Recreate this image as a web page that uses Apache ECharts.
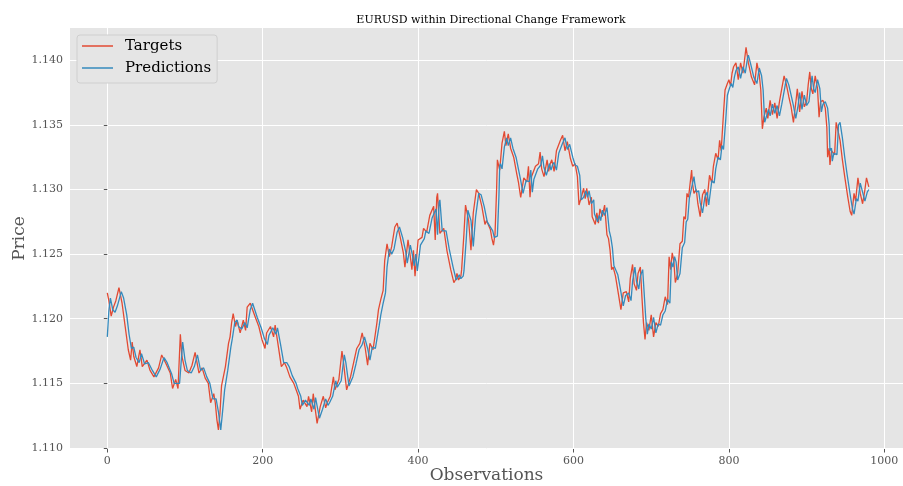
<!DOCTYPE html>
<html>
<head>
<meta charset="utf-8">
<script src="https://cdn.jsdelivr.net/npm/echarts@6/dist/echarts.min.js"></script>
<style>
  html, body { margin: 0; padding: 0; background: #ffffff; }
  #chart { width: 903px; height: 486px; }
</style>
</head>
<body>
<div id="chart"></div>
<script>
// EURUSD observations: targets and model predictions
const targetObs = [0,2,5,8,11,15,19,23,27,30,32,34,38,42,45,51,55,60,66,70,75,81,84,88,91,94,96,100,105,109,113,118,122,126,130,133,137,139,141,143,145,147,152,156,158,160,162,165,167,171,175,178,180,184,186,190,195,199,203,205,210,214,216,220,224,228,231,235,240,243,246,248,252,257,259,263,265,270,274,278,281,283,287,291,293,298,302,304,308,313,317,321,325,328,332,335,338,342,347,349,352,355,357,360,363,366,370,373,377,381,383,387,390,392,394,396,400,405,407,411,415,420,422,424,425,428,433,437,442,446,448,450,452,455,456,459,461,465,468,471,475,478,482,486,488,493,495,497,499,501,502,503,505,508,511,513,516,519,523,527,529,532,536,540,542,544,546,551,555,557,559,562,566,568,570,572,575,578,583,586,589,592,596,599,602,605,607,610,613,615,617,620,623,624,628,630,632,634,637,640,643,645,647,649,651,654,657,661,664,668,671,673,676,678,681,683,686,688,690,692,694,697,700,703,706,709,712,715,718,721,723,725,727,729,731,734,737,740,742,744,746,748,752,753,755,758,760,763,766,769,771,775,778,780,783,786,788,790,793,795,798,800,802,804,806,809,812,815,818,821,822,825,829,833,836,839,841,843,845,848,850,853,856,859,862,865,868,871,874,877,880,883,886,888,891,894,897,900,902,904,906,908,911,914,916,918,921,924,926,927,929,930,932,936,938,940,943,946,949,953,956,958,961,963,966,969,972,975,977,980];
const targetPrice = [1.1220,1.1214,1.1202,1.1209,1.1214,1.1224,1.1212,1.1194,1.1176,1.1168,1.1182,1.1171,1.1163,1.1176,1.1163,1.1168,1.1160,1.1155,1.1162,1.1172,1.1166,1.1158,1.1146,1.1153,1.1146,1.1188,1.1171,1.1160,1.1158,1.1164,1.1174,1.1158,1.1162,1.1154,1.1150,1.1135,1.1142,1.1135,1.1122,1.1114,1.1127,1.1148,1.1163,1.1181,1.1186,1.1197,1.1204,1.1194,1.1199,1.1189,1.1199,1.1191,1.1209,1.1212,1.1213,1.1202,1.1194,1.1184,1.1177,1.1189,1.1194,1.1186,1.1195,1.1179,1.1163,1.1166,1.1162,1.1155,1.1150,1.1145,1.1140,1.1130,1.1137,1.1132,1.1140,1.1128,1.1142,1.1119,1.1132,1.1140,1.1131,1.1135,1.1140,1.1155,1.1145,1.1153,1.1175,1.1166,1.1145,1.1155,1.1166,1.1177,1.1181,1.1189,1.1177,1.1164,1.1181,1.1176,1.1197,1.1207,1.1215,1.1222,1.1245,1.1258,1.1248,1.1256,1.1271,1.1274,1.1263,1.1251,1.1240,1.1261,1.1248,1.1238,1.1253,1.1233,1.1261,1.1263,1.1270,1.1267,1.1280,1.1287,1.1261,1.1294,1.1297,1.1266,1.1270,1.1253,1.1238,1.1228,1.1230,1.1235,1.1230,1.1233,1.1238,1.1266,1.1288,1.1276,1.1253,1.1282,1.1300,1.1297,1.1287,1.1273,1.1276,1.1269,1.1262,1.1257,1.1266,1.1300,1.1323,1.1324,1.1315,1.1336,1.1345,1.1334,1.1343,1.1332,1.1325,1.1312,1.1306,1.1294,1.1309,1.1306,1.1318,1.1294,1.1310,1.1318,1.1320,1.1329,1.1316,1.1310,1.1323,1.1314,1.1320,1.1323,1.1314,1.1330,1.1338,1.1342,1.1330,1.1337,1.1324,1.1318,1.1320,1.1310,1.1288,1.1294,1.1301,1.1293,1.1301,1.1288,1.1294,1.1279,1.1273,1.1282,1.1274,1.1285,1.1279,1.1288,1.1265,1.1262,1.1253,1.1238,1.1240,1.1233,1.1222,1.1207,1.1220,1.1221,1.1213,1.1231,1.1242,1.1227,1.1222,1.1235,1.1240,1.1217,1.1197,1.1184,1.1197,1.1191,1.1203,1.1186,1.1197,1.1194,1.1204,1.1207,1.1217,1.1211,1.1248,1.1238,1.1251,1.1245,1.1228,1.1235,1.1258,1.1260,1.1279,1.1277,1.1297,1.1294,1.1315,1.1305,1.1297,1.1300,1.1289,1.1279,1.1296,1.1300,1.1287,1.1311,1.1305,1.1318,1.1328,1.1323,1.1338,1.1330,1.1359,1.1377,1.1382,1.1385,1.1380,1.1390,1.1395,1.1398,1.1385,1.1398,1.1390,1.1405,1.1410,1.1398,1.1387,1.1381,1.1398,1.1389,1.1377,1.1347,1.1356,1.1363,1.1355,1.1369,1.1358,1.1367,1.1355,1.1368,1.1378,1.1388,1.1381,1.1372,1.1364,1.1352,1.1367,1.1378,1.1360,1.1376,1.1364,1.1368,1.1381,1.1391,1.1378,1.1374,1.1388,1.1378,1.1356,1.1368,1.1369,1.1363,1.1348,1.1325,1.1332,1.1319,1.1330,1.1327,1.1352,1.1353,1.1338,1.1323,1.1310,1.1294,1.1283,1.1280,1.1297,1.1291,1.1309,1.1297,1.1289,1.1300,1.1309,1.1302];

const predObs = [0,2,4,7,10,13,18,21,25,28,31,34,37,41,44,48,53,58,63,68,73,77,83,86,90,93,97,100,103,108,112,116,120,124,128,132,136,140,143,146,148,151,155,159,161,164,167,169,173,177,180,184,187,189,193,198,202,206,208,213,217,219,223,227,231,234,238,243,245,249,251,255,260,262,266,268,273,277,281,284,286,290,294,296,301,305,307,311,316,320,324,328,331,335,338,341,345,350,352,355,358,360,363,366,369,373,376,380,384,386,390,393,395,397,399,403,408,410,414,418,423,425,427,428,431,436,440,445,449,451,453,455,458,459,462,464,468,471,474,478,481,485,489,491,496,498,500,502,504,505,506,508,511,514,516,519,522,526,530,532,535,539,543,545,547,549,554,558,560,562,565,569,571,573,575,578,581,586,589,592,595,599,602,605,608,610,613,616,618,620,623,626,627,631,633,635,637,640,643,646,648,650,652,654,657,660,664,667,671,674,676,679,681,684,686,689,691,693,695,697,700,703,706,709,712,715,718,721,724,726,728,730,732,734,737,740,743,745,747,749,751,755,756,758,761,763,766,769,772,774,778,781,783,786,789,791,793,796,798,801,803,805,807,809,812,815,818,821,824,825,828,832,836,839,842,844,846,848,851,853,856,859,862,865,868,871,874,877,880,883,886,889,891,894,897,900,903,905,907,909,911,914,917,919,921,924,927,929,930,932,933,935,939,941,943,946,949,952,956,959,961,964,966,969,972,975,978,980];
const predPrice = [1.1186,1.1206,1.1216,1.1207,1.1205,1.1210,1.1221,1.1216,1.1203,1.1188,1.1177,1.1178,1.1170,1.1166,1.1173,1.1165,1.1166,1.1160,1.1155,1.1161,1.1170,1.1166,1.1157,1.1150,1.1150,1.1150,1.1182,1.1168,1.1160,1.1158,1.1163,1.1172,1.1160,1.1162,1.1155,1.1150,1.1138,1.1138,1.1128,1.1114,1.1126,1.1145,1.1160,1.1178,1.1185,1.1197,1.1199,1.1194,1.1192,1.1197,1.1193,1.1207,1.1212,1.1211,1.1201,1.1193,1.1185,1.1180,1.1187,1.1193,1.1188,1.1193,1.1180,1.1166,1.1166,1.1163,1.1156,1.1150,1.1146,1.1140,1.1133,1.1137,1.1133,1.1138,1.1130,1.1139,1.1123,1.1130,1.1138,1.1133,1.1135,1.1140,1.1152,1.1147,1.1152,1.1172,1.1166,1.1148,1.1155,1.1165,1.1176,1.1180,1.1186,1.1177,1.1168,1.1178,1.1177,1.1195,1.1203,1.1212,1.1220,1.1240,1.1254,1.1250,1.1254,1.1267,1.1271,1.1263,1.1252,1.1243,1.1257,1.1248,1.1241,1.1250,1.1237,1.1257,1.1262,1.1268,1.1266,1.1278,1.1285,1.1265,1.1290,1.1292,1.1268,1.1268,1.1254,1.1240,1.1230,1.1230,1.1234,1.1231,1.1233,1.1237,1.1262,1.1284,1.1276,1.1256,1.1279,1.1297,1.1296,1.1287,1.1275,1.1275,1.1268,1.1263,1.1262,1.1264,1.1295,1.1318,1.1320,1.1316,1.1333,1.1340,1.1334,1.1340,1.1332,1.1325,1.1313,1.1307,1.1297,1.1307,1.1306,1.1315,1.1298,1.1308,1.1316,1.1319,1.1326,1.1317,1.1311,1.1320,1.1315,1.1319,1.1321,1.1315,1.1328,1.1336,1.1340,1.1331,1.1335,1.1325,1.1319,1.1318,1.1311,1.1292,1.1294,1.1299,1.1294,1.1299,1.1289,1.1292,1.1281,1.1275,1.1280,1.1276,1.1284,1.1280,1.1286,1.1268,1.1263,1.1255,1.1241,1.1240,1.1234,1.1224,1.1210,1.1218,1.1220,1.1214,1.1229,1.1240,1.1229,1.1223,1.1233,1.1238,1.1219,1.1200,1.1188,1.1196,1.1192,1.1201,1.1189,1.1196,1.1195,1.1203,1.1206,1.1215,1.1212,1.1244,1.1240,1.1248,1.1244,1.1230,1.1235,1.1255,1.1259,1.1275,1.1277,1.1293,1.1294,1.1310,1.1305,1.1298,1.1299,1.1290,1.1282,1.1294,1.1298,1.1288,1.1307,1.1305,1.1316,1.1325,1.1323,1.1334,1.1331,1.1355,1.1373,1.1379,1.1382,1.1379,1.1387,1.1392,1.1395,1.1386,1.1395,1.1390,1.1402,1.1404,1.1397,1.1387,1.1382,1.1394,1.1388,1.1377,1.1352,1.1356,1.1362,1.1357,1.1366,1.1359,1.1365,1.1357,1.1366,1.1376,1.1386,1.1381,1.1373,1.1365,1.1355,1.1365,1.1375,1.1362,1.1373,1.1365,1.1368,1.1379,1.1388,1.1378,1.1375,1.1385,1.1378,1.1360,1.1366,1.1368,1.1363,1.1350,1.1330,1.1332,1.1322,1.1328,1.1327,1.1350,1.1352,1.1340,1.1325,1.1312,1.1296,1.1285,1.1281,1.1293,1.1291,1.1305,1.1298,1.1291,1.1298,1.1300];

const xTicks = [0, 200, 400, 600, 800, 1000];
const yTicks = [1.110, 1.115, 1.120, 1.125, 1.130, 1.135, 1.140];

const pair = (xs, ys) => xs.map((x, i) => [x, ys[i]]);

const SERIF = '"DejaVu Serif", "Liberation Serif", serif';
const chart = echarts.init(document.getElementById('chart'), null, { renderer: 'canvas' });

chart.setOption({
  animation: false,
  backgroundColor: '#ffffff',
  title: {
    text: 'EURUSD within Directional Change Framework',
    left: 486, top: 10, textAlign: 'center',
    textStyle: { fontFamily: SERIF, fontSize: 11, fontWeight: 'normal', color: '#000000' }
  },
  grid: {
    left: 70, right: 0, top: 28, bottom: 37,
    containLabel: false, outerBoundsMode: 'none',
    show: true, backgroundColor: '#E5E5E5', borderWidth: 0
  },
  legend: {
    orient: 'vertical', left: 77, top: 35,
    padding: [3, 6, 7, 5], itemGap: 6,
    itemWidth: 31, itemHeight: 1.5, icon: 'rect',
    backgroundColor: '#E5E5E5', borderColor: '#cfcfcf', borderWidth: 1, borderRadius: 3,
    textStyle: { fontFamily: SERIF, fontSize: 15, color: '#000000', lineHeight: 16, padding: [0, 0, 0, 7] },
    data: ['Targets', 'Predictions']
  },
  xAxis: {
    type: 'value', min: -48, max: 1024, splitNumber: 5,
    name: 'Observations', nameLocation: 'middle', nameGap: 18, nameMoveOverlap: false,
    nameTextStyle: { fontFamily: SERIF, fontSize: 17, color: '#555555' },
    axisLine: { show: false },
    axisTick: { show: true, length: 3.5, lineStyle: { color: '#555555', width: 1 }, customValues: xTicks },
    axisLabel: { fontFamily: SERIF, fontSize: 11, color: '#555555', margin: 7,
                 showMinLabel: true, showMaxLabel: true, customValues: xTicks,
                 formatter: v => String(v) },
    splitLine: { show: true, lineStyle: { color: '#ffffff', width: 1 } }
  },
  yAxis: {
    type: 'value', min: 1.10992, max: 1.14250, splitNumber: 6,
    name: 'Price', nameLocation: 'middle', nameGap: 42, nameRotate: 90, nameMoveOverlap: false,
    nameTextStyle: { fontFamily: SERIF, fontSize: 17, color: '#555555' },
    axisLine: { show: false },
    axisTick: { show: true, length: 3.5, lineStyle: { color: '#555555', width: 1 }, customValues: yTicks },
    axisLabel: { fontFamily: SERIF, fontSize: 11, color: '#555555', margin: 7,
                 showMinLabel: true, showMaxLabel: true, customValues: yTicks,
                 formatter: v => v.toFixed(3) },
    splitLine: { show: true, lineStyle: { color: '#ffffff', width: 1 } }
  },
  series: [
    {
      name: 'Targets', type: 'line', data: pair(targetObs, targetPrice),
      showSymbol: false, symbol: 'none',
      itemStyle: { color: '#E24A33' },
      lineStyle: { color: '#E24A33', width: 1.3 }
    },
    {
      name: 'Predictions', type: 'line', data: pair(predObs, predPrice),
      showSymbol: false, symbol: 'none',
      itemStyle: { color: '#348ABD' },
      lineStyle: { color: '#348ABD', width: 1.3 }
    }
  ]
});
</script>
</body>
</html>
